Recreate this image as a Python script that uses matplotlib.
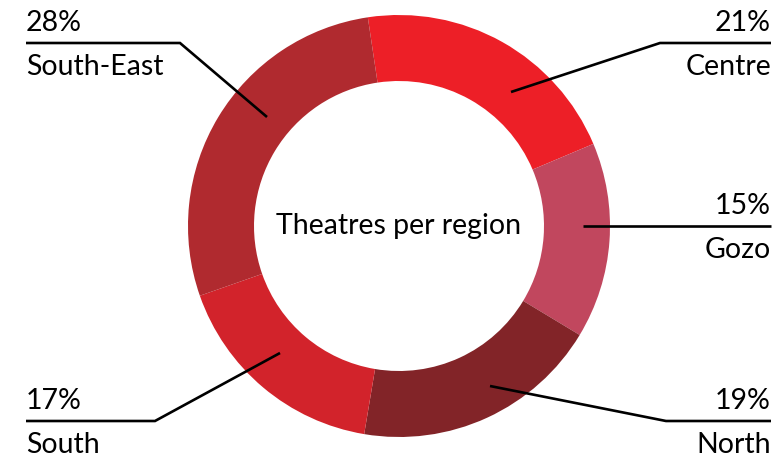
"""Donut chart: theatres per region."""

import matplotlib
matplotlib.use("Agg")
import matplotlib.pyplot as plt

regions = ["Centre", "Gozo", "North", "South", "South-East"]
shares = [21, 15, 19, 17, 28]
colors = ["#ED1F27", "#C1475E", "#822428", "#D2232B", "#B02A2F"]
centre_title = "Theatres per region"

# leader layout in pixel space (y grows downward): anchor in ring, elbow, line end
leaders = {
    "Centre":     dict(anchor=(511, 92),  elbow=(660, 43),  end=771, ha="right"),
    "Gozo":       dict(anchor=(583, 226), elbow=(583, 226), end=771, ha="right"),
    "North":      dict(anchor=(490, 386), elbow=(666, 421), end=771, ha="right"),
    "South":      dict(anchor=(280, 353), elbow=(155, 421), end=26,  ha="left"),
    "South-East": dict(anchor=(267, 117), elbow=(180, 43),  end=26,  ha="left"),
}

W, H = 773, 461
CX, CY, R, RING = 399, 226, 211, 66
FONT = ["Lato", "DejaVu Sans"]
FS = 20.5

fig = plt.figure(figsize=(W / 100, H / 100), dpi=100)
ax = fig.add_axes([0, 0, 1, 1])

# y axis is flipped below, so counterclock=True draws clockwise on screen
ax.pie(shares, colors=colors, startangle=-98.5, counterclock=True,
       center=(CX, CY), radius=R,
       wedgeprops=dict(width=RING, linewidth=0))

ax.set_xlim(0, W)
ax.set_ylim(H, 0)
ax.set_aspect("equal")
ax.axis("off")

ax.text(CX, CY, centre_title, ha="center", va="center", fontsize=FS,
        family=FONT, color="black")

for name, pct in zip(regions, shares):
    lay = leaders[name]
    ax_, ay = lay["anchor"]
    ex, ey = lay["elbow"]
    ax.plot([ax_, ex, lay["end"]], [ay, ey, ey], color="black", lw=1.9,
            solid_capstyle="butt", solid_joinstyle="miter")
    ax.text(lay["end"], ey - 20, f"{pct}%", ha=lay["ha"], va="center",
            fontsize=FS, family=FONT, color="black")
    ax.text(lay["end"], ey + 24, name, ha=lay["ha"], va="center",
            fontsize=FS, family=FONT, color="black")

fig.savefig("out.png", dpi=100)
